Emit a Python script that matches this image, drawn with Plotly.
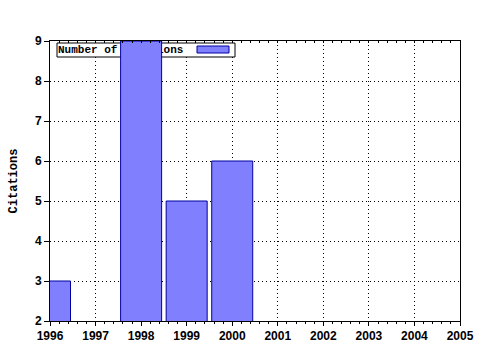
import plotly.graph_objects as go

# ---- data ----
years = [1996, 1998, 1999, 2000]
citations = [3, 9, 5, 6]
x_ticks = list(range(1996, 2006))
y_ticks = list(range(2, 10))
legend_label = "Number of citations"
y_title = "Citations"

# ---- styling / layout helpers ----
X0, X1 = 1996, 2005
Y0, Y1 = 2, 9
L, R, T, B = 50, 460, 41, 321  # plot area in pixels


def px_x(p):
    return X0 + (p - L) / (R - L) * (X1 - X0)


def px_y(p):
    return Y1 - (p - T) / (B - T) * (Y1 - Y0)


BAR_FILL = "#8080ff"
BAR_LINE = "#0000a0"
GRID_DASH = "1px,3px"
tick_font = dict(family="Liberation Sans", size=12, color="black", weight="bold")
mono_font = dict(family="Liberation Mono", size=11, color="black", weight="bold")
title_font = dict(family="Liberation Mono", size=12, color="black", weight="bold")

fig = go.Figure()

# legend text (base subplot, beneath the bars)
fig.add_trace(go.Scatter(
    x=[px_x(58)], y=[px_y(50)], mode="text", text=[legend_label],
    textposition="middle right", textfont=mono_font, showlegend=False,
    hoverinfo="skip", xaxis="x", yaxis="y", cliponaxis=False,
))

# bars on an overlay subplot so they cover the legend box
fig.add_trace(go.Bar(
    x=years, y=citations, width=0.9, name=legend_label,
    marker=dict(color=BAR_FILL, line=dict(color=BAR_LINE, width=1)),
    xaxis="x2", yaxis="y2", showlegend=False,
))

fig.update_layout(
    width=480, height=350,
    margin=dict(l=L, r=480 - R, t=T, b=350 - B, pad=0, autoexpand=False),
    paper_bgcolor="white", plot_bgcolor="white",
    xaxis=dict(
        range=[X0, X1], tickvals=x_ticks, ticktext=[str(v) for v in x_ticks],
        tickfont=tick_font, showgrid=True, gridcolor="black", griddash=GRID_DASH,
        gridwidth=1, showline=True, linecolor="black", linewidth=1, mirror=True,
        ticks="outside", ticklen=4, tickcolor="black",
        minor=dict(dtick=0.2, tick0=1996, ticks="outside", ticklen=2,
                   tickcolor="black", showgrid=False),
        zeroline=False, fixedrange=True, automargin=False,
    ),
    yaxis=dict(
        range=[Y0, Y1], tickvals=y_ticks, ticktext=[str(v) for v in y_ticks],
        tickfont=tick_font, showgrid=True, gridcolor="black", griddash=GRID_DASH,
        gridwidth=1, showline=True, linecolor="black", linewidth=1, mirror=True,
        ticks="outside", ticklen=5, tickcolor="black",
        title=dict(text=y_title, font=title_font, standoff=14),
        zeroline=False, fixedrange=True, automargin=False,
    ),
    xaxis2=dict(
        range=[X0, X1], overlaying="x", side="top", anchor="y2",
        showgrid=False, showline=False, showticklabels=False, zeroline=False,
        ticks="inside", tick0=1996, dtick=0.2, ticklen=2, tickcolor="black",
        fixedrange=True, automargin=False,
    ),
    yaxis2=dict(
        range=[Y0, Y1], overlaying="y", side="left", anchor="x2",
        showgrid=False, showline=False, showticklabels=False, zeroline=False,
        ticks="", fixedrange=True, automargin=False,
    ),
    shapes=[
        dict(type="rect", xref="x", yref="y", layer="between",
             x0=px_x(57), x1=px_x(235), y0=px_y(57), y1=px_y(43),
             fillcolor="white", line=dict(color="black", width=1)),
        dict(type="rect", xref="x", yref="y", layer="between",
             x0=px_x(197), x1=px_x(229), y0=px_y(53), y1=px_y(46),
             fillcolor=BAR_FILL, line=dict(color=BAR_LINE, width=1)),
    ],
    showlegend=False,
)

fig.write_html("out.html")
